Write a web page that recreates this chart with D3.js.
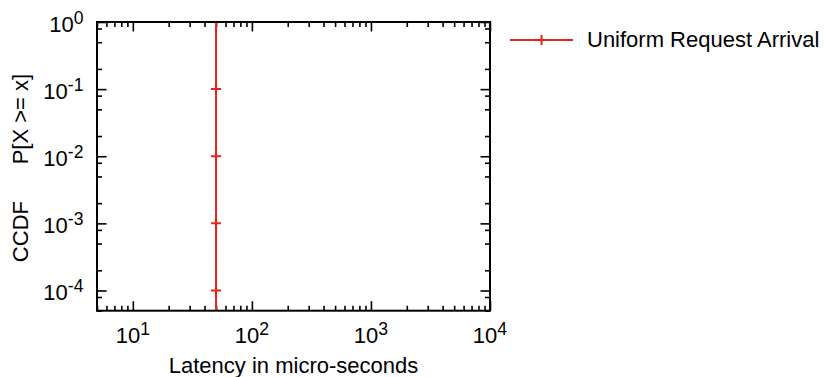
<!DOCTYPE html>
<html><head><meta charset="utf-8">
<script src="https://cdn.jsdelivr.net/npm/d3@7/dist/d3.min.js"></script>
<style>
body{margin:0;background:#fff;}
text{font-family:"Liberation Sans",Arial,Helvetica,sans-serif;fill:#000;}
</style>
</head><body>
<svg id="chart" width="824" height="377"></svg>
<script>
// ---- data ----
const seriesName = "Uniform Request Arrival";
const latency = [50, 50, 50, 50, 50, 50];
const ccdf = [1, 1e-1, 1e-2, 1e-3, 1e-4, 1e-5];

const xTickValues = [10, 100, 1000, 10000];
const xTickExponents = ["1", "2", "3", "4"];
const yTickValues = [1, 1e-1, 1e-2, 1e-3, 1e-4];
const yTickExponents = ["0", "-1", "-2", "-3", "-4"];
const xMinorMultipliers = [2, 3, 4, 5, 6, 7, 8, 9];
const yMinorMultipliers = [2, 5, 8];
const xLabel = "Latency in micro-seconds";
const yLabel = "CCDF      P[X >= x]";

// ---- layout ----
const L = 97, R = 490, T = 22, B = 310.7;
const color = "#e8231b";
const fontSize = 22;

const svg = d3.select("#chart");
const x = d3.scaleLog().domain([5, 1e4]).range([L, R]);
const y = d3.scaleLog().domain([5e-5, 1]).range([B, T]);

const xMinor = [];
[1, 10, 100, 1000].forEach(d => xMinorMultipliers.forEach(m => { const v = d * m; if (v >= 5 && v <= 1e4) xMinor.push(v); }));
const yMinor = [];
[1e-4, 1e-3, 1e-2, 1e-1, 1e-5].forEach(d => yMinorMultipliers.forEach(m => { const v = d * m; if (v >= 5e-5 && v < 1) yMinor.push(v); }));

function styleAxis(g) {
  g.select(".domain").remove();
  g.selectAll(".tick line").attr("stroke", "#000").attr("stroke-width", 1.6);
  g.selectAll(".tick text").remove();
}
const majLen = 9.5, minLen = 5;

svg.append("g").attr("transform", `translate(0,${B})`)
  .call(d3.axisBottom(x).tickValues(xTickValues).tickSizeInner(-majLen).tickSizeOuter(0).tickFormat("")).call(styleAxis);
svg.append("g").attr("transform", `translate(0,${B})`)
  .call(d3.axisBottom(x).tickValues(xMinor).tickSizeInner(-minLen).tickSizeOuter(0).tickFormat("")).call(styleAxis);
svg.append("g").attr("transform", `translate(0,${T})`)
  .call(d3.axisTop(x).tickValues(xTickValues).tickSizeInner(-majLen).tickSizeOuter(0).tickFormat("")).call(styleAxis);
svg.append("g").attr("transform", `translate(0,${T})`)
  .call(d3.axisTop(x).tickValues(xMinor).tickSizeInner(-minLen).tickSizeOuter(0).tickFormat("")).call(styleAxis);
svg.append("g").attr("transform", `translate(${L},0)`)
  .call(d3.axisLeft(y).tickValues(yTickValues).tickSizeInner(-majLen).tickSizeOuter(0).tickFormat("")).call(styleAxis);
svg.append("g").attr("transform", `translate(${L},0)`)
  .call(d3.axisLeft(y).tickValues(yMinor).tickSizeInner(-minLen).tickSizeOuter(0).tickFormat("")).call(styleAxis);
svg.append("g").attr("transform", `translate(${R},0)`)
  .call(d3.axisRight(y).tickValues(yTickValues).tickSizeInner(-majLen).tickSizeOuter(0).tickFormat("")).call(styleAxis);
svg.append("g").attr("transform", `translate(${R},0)`)
  .call(d3.axisRight(y).tickValues(yMinor).tickSizeInner(-minLen).tickSizeOuter(0).tickFormat("")).call(styleAxis);

// tick labels
function powLabel(sel, exp) {
  sel.append("tspan").text("10");
  sel.append("tspan").attr("font-size", fontSize * 0.8).attr("dy", -7.5).text(exp);
}
xTickValues.forEach((v, i) => {
  const t = svg.append("text").attr("x", x(v)).attr("y", 342.5)
    .attr("text-anchor", "middle").attr("font-size", fontSize);
  powLabel(t, xTickExponents[i]);
});
yTickValues.forEach((v, i) => {
  const t = svg.append("text").attr("x", 83.5).attr("y", y(v) + 9.5)
    .attr("text-anchor", "end").attr("font-size", fontSize);
  powLabel(t, yTickExponents[i]);
});

// axis titles
svg.append("text").attr("x", (L + R) / 2).attr("y", 373)
  .attr("text-anchor", "middle").attr("font-size", fontSize).text(xLabel);
svg.append("text").attr("transform", `translate(28,168) rotate(-90)`)
  .attr("text-anchor", "middle").attr("font-size", fontSize)
  .style("white-space", "pre").attr("xml:space", "preserve").text(yLabel);

// clip
svg.append("clipPath").attr("id", "clip").append("rect")
  .attr("x", L).attr("y", T).attr("width", R - L).attr("height", B - T);

const pts = latency.map((d, i) => [d, ccdf[i]]);
const plot = svg.append("g").attr("clip-path", "url(#clip)");
plot.append("path").datum(pts)
  .attr("d", d3.line().x(d => x(d[0])).y(d => y(d[1])))
  .attr("fill", "none").attr("stroke", color).attr("stroke-width", 2);
plot.selectAll(".pt").data(pts).enter().append("path")
  .attr("transform", d => `translate(${x(d[0])},${y(d[1])})`)
  .attr("d", "M-5,0H5M0,-5V5").attr("stroke", color).attr("stroke-width", 2).attr("fill", "none");

// border
svg.append("rect").attr("x", L).attr("y", T).attr("width", R - L).attr("height", B - T)
  .attr("fill", "none").attr("stroke", "#000").attr("stroke-width", 2);

// legend
const ly = 40;
svg.append("line").attr("x1", 510).attr("x2", 573).attr("y1", ly).attr("y2", ly)
  .attr("stroke", color).attr("stroke-width", 2);
svg.append("path").attr("transform", `translate(541.5,${ly})`)
  .attr("d", "M-5,0H5M0,-5V5").attr("stroke", color).attr("stroke-width", 2);
svg.append("text").attr("x", 587).attr("y", ly + 7).attr("font-size", fontSize).text(seriesName);
</script>
</body></html>
